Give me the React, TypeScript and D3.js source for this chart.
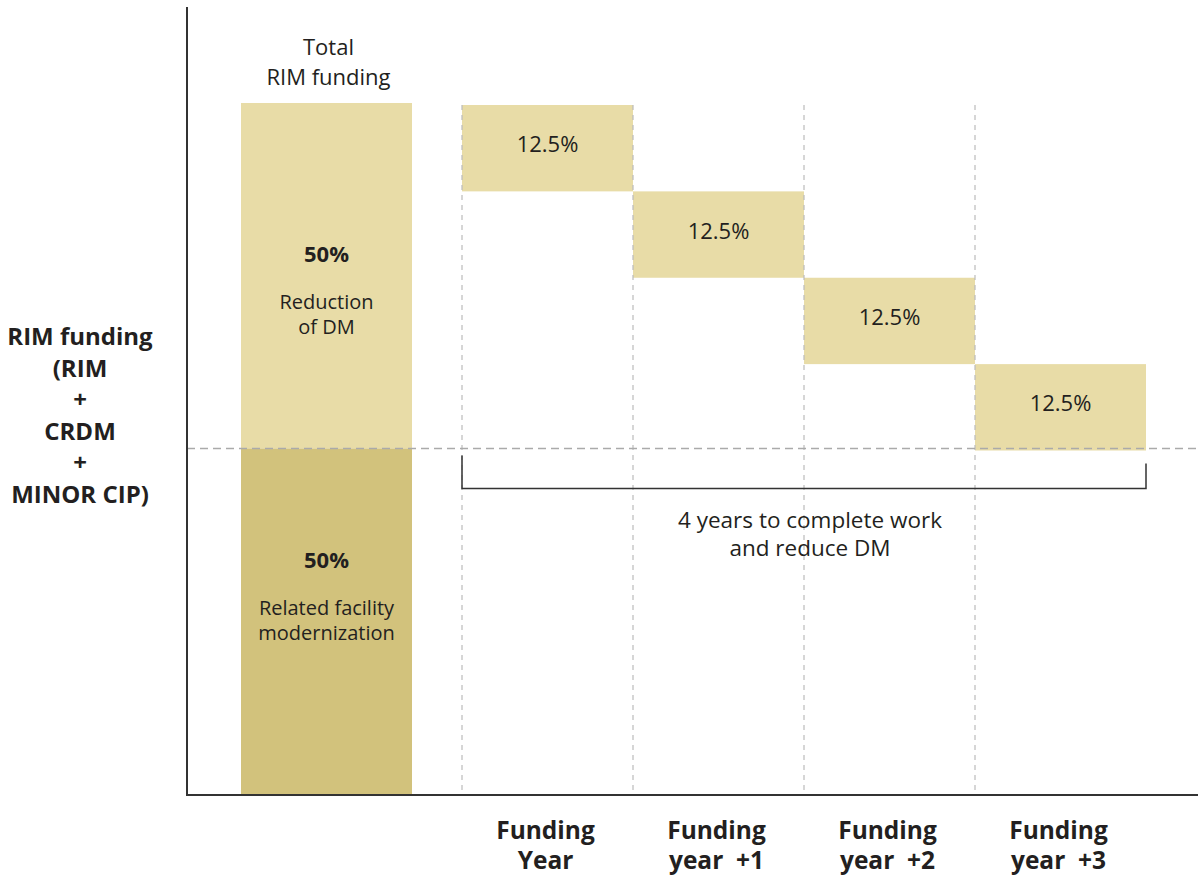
import React from 'react';
import { scaleBand, scaleLinear } from 'd3';

// data
const yearLabels = [['Funding', 'Year'], ['Funding', 'year  +1'], ['Funding', 'year  +2'], ['Funding', 'year  +3']];
const yearShares = [12.5, 12.5, 12.5, 12.5];
const totalShares = [50, 50];
const totalNotes = [['Reduction', 'of DM'], ['Related facility', 'modernization']];
const totalFills = ['#E8DCA7', '#D2C27C'];
const sideLabel = ['RIM funding', '(RIM', '+', 'CRDM', '+', 'MINOR CIP)'];
const totalTitle = ['Total', 'RIM funding'];
const spanNote = ['4 years to complete work', 'and reduce DM'];

const width = 1198;
const height = 876;
const margin = { top: 103, left: 187, bottom: 81, right: 0 };
const axisTop = 7;
const gapToTotal = 50;
const font = '"Open Sans", "Noto Sans", sans-serif';
const ink = '#231F20';
const dash = '#AAAAAA';
// distance from top of each total piece to its bold % label
const pieceLabelDy = [159, 119];

const App = () => {
  const baseline = height - margin.bottom;

  const yScale = scaleLinear()
    .domain([0, 100])
    .range([baseline - 1, margin.top]);

  const xScale = scaleBand()
    .domain(yearLabels.map((d, i) => String(i)))
    .range([462, 1146]);

  const bw = xScale.bandwidth();
  const totalX = (xScale('0') as number) - gapToTotal - bw;
  const totalCx = totalX + bw / 2;

  // pieces of the total bar, listed top first
  let acc = 100;
  const stack = totalShares.map((s, i) => {
    const y1 = acc;
    acc -= s;
    return { i, share: s, y0: acc, y1, lines: totalNotes[i], fill: totalFills[i] };
  });

  // staircase: each year takes its share from the top down
  let top = 100;
  const steps = yearShares.map((s, i) => {
    const y1 = top;
    top -= s;
    return { key: String(i), share: s, y0: top, y1 };
  });

  const midY = yScale(100 - totalShares[0]);
  const bracketL = xScale('0') as number;
  const bracketR = (xScale(String(yearLabels.length - 1)) as number) + bw;

  return (
    <svg width={width} height={height} style={{ position: 'absolute', left: 0, top: 0, background: '#fff' }}
      fontFamily={font} fill={ink}>
      {/* total bar */}
      {stack.map(p => (
        <rect key={p.i} x={totalX} y={yScale(p.y1)} width={bw} height={yScale(p.y0) - yScale(p.y1)} fill={p.fill} />
      ))}

      {/* yearly bars */}
      {steps.map(s => (
        <rect key={s.key} x={xScale(s.key)} y={yScale(s.y1) + 2} width={bw}
          height={yScale(s.y0) - yScale(s.y1)} fill={totalFills[0]} />
      ))}

      {/* vertical dashed guides */}
      {steps.map(s => (
        <line key={'g' + s.key} x1={xScale(s.key)} x2={xScale(s.key)} y1={yScale(100) + 2} y2={baseline}
          stroke="#BBBBBB" strokeWidth={1.2} strokeDasharray="5 5" />
      ))}

      {/* 50% dashed line */}
      <line x1={margin.left} x2={width} y1={midY} y2={midY} stroke={dash} strokeWidth={1.5} strokeDasharray="8 5" />

      {/* axes */}
      <line x1={margin.left} x2={margin.left} y1={axisTop} y2={baseline + 1} stroke="#333" strokeWidth={2} />
      <line x1={margin.left - 1} x2={width} y1={baseline} y2={baseline} stroke="#333" strokeWidth={2} />

      {/* bracket */}
      <path d={`M${bracketL},${midY + 7}V${midY + 40}H${bracketR}V${midY + 15}`} fill="none" stroke="#333" strokeWidth={1.5} />

      {/* labels inside total bar */}
      {stack.map(p => {
        const yl = yScale(p.y1) + pieceLabelDy[p.i];
        return (
          <g key={'t' + p.i} textAnchor="middle">
            <text x={totalCx} y={yl} fontSize={22} fontWeight={700}>{p.share}%</text>
            {p.lines.map((l, i) => (
              <text key={l} x={totalCx} y={yl + 47 + i * 25} fontSize={20}>{l}</text>
            ))}
          </g>
        );
      })}

      {totalTitle.map((l, i) => (
        <text key={l} x={totalCx + 2} y={55 + i * 30} fontSize={22} textAnchor="middle">{l}</text>
      ))}

      {/* step labels */}
      {steps.map(s => (
        <text key={'l' + s.key} x={(xScale(s.key) as number) + bw / 2}
          y={(yScale(s.y0) + yScale(s.y1)) / 2 + 6} fontSize={22} textAnchor="middle">{s.share}%</text>
      ))}

      {spanNote.map((l, i) => (
        <text key={l} x={810} y={528 + i * 28} fontSize={22.5} textAnchor="middle">{l}</text>
      ))}

      {/* x labels */}
      {yearLabels.map((lines, i) => (
        <g key={'x' + i} textAnchor="middle">
          {lines.map((l, j) => (
            <text key={j} x={(xScale(String(i)) as number) + bw / 2 - 2} y={839 + j * 30} fontSize={24.5}
              fontWeight={700} style={{ whiteSpace: 'pre' }}>{l}</text>
          ))}
        </g>
      ))}

      {/* side label */}
      {sideLabel.map((l, i) => (
        <text key={i} x={80} y={345 + i * 31.6} fontSize={24} fontWeight={700} textAnchor="middle">{l}</text>
      ))}
    </svg>
  );
};

export default App;
